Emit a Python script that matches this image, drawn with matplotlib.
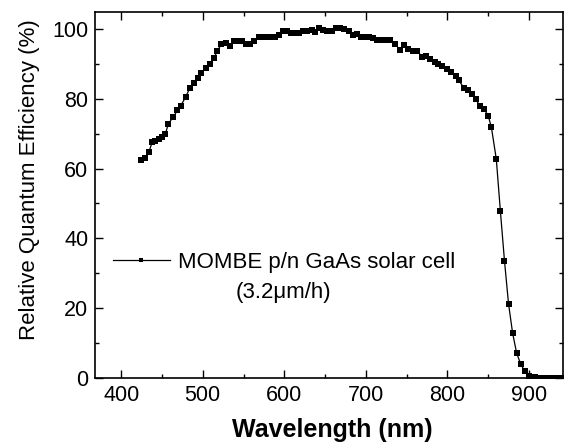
import matplotlib
matplotlib.use('Agg')
import matplotlib.pyplot as plt
from matplotlib.ticker import MultipleLocator

plt.rcParams['font.family'] = ['Liberation Sans', 'DejaVu Sans']

# Quantum efficiency spectrum
wavelength = [424, 429, 434, 438, 442, 446, 450, 454, 458, 464, 469, 473,
              479, 484, 489, 494, 498, 504, 509, 514, 518, 523, 528, 533,
              538, 543, 548, 553, 558, 563, 569, 574, 579, 584, 589, 594,
              598, 603, 608, 613, 618, 623, 628, 634, 638, 643, 648, 653,
              658, 663, 668, 673, 679, 684, 689, 694, 699, 704, 709, 714,
              720, 725, 730, 736, 742, 747, 752, 758, 763, 769, 774, 779,
              785, 789, 794, 799, 805, 810, 814, 820, 825, 830, 835, 840,
              845, 850, 854, 860, 865, 870, 875, 880, 885, 890, 895, 900,
              904, 907, 910, 913, 916, 919, 922, 925, 928, 931, 934, 937, 940]
qe = [62.4, 62.9, 64.7, 67.6, 68.0, 68.5, 69.0, 69.8, 72.9, 74.8, 76.7, 78.0,
      80.5, 83.0, 84.6, 86.0, 87.4, 88.9, 90.1, 91.8, 93.8, 95.7, 95.9, 95.1,
      96.6, 96.6, 96.6, 95.6, 95.6, 96.6, 97.8, 97.8, 97.8, 97.6, 97.6, 98.3,
      99.4, 99.4, 99.0, 99.0, 99.0, 99.5, 99.3, 99.8, 99.1, 100.2, 99.8, 99.5,
      99.3, 100.3, 100.4, 99.9, 99.4, 98.3, 98.7, 97.8, 97.8, 97.6, 97.3, 97.0,
      97.0, 97.0, 97.0, 95.7, 94.0, 95.4, 94.2, 93.8, 93.8, 92.0, 92.2, 91.3,
      90.6, 89.9, 89.4, 88.4, 87.7, 86.5, 85.3, 83.2, 82.5, 81.3, 79.8, 77.9,
      77.0, 75.2, 71.8, 62.7, 47.8, 33.6, 21.2, 12.8, 7.0, 3.9, 1.8, 0.6,
      0.2, 0.1, 0.0, 0.0, 0.0, 0.0, 0.0, 0.0, 0.0, 0.0, 0.0, 0.0, 0.0]

label = 'MOMBE p/n GaAs solar cell'
label_note = '(3.2\u03bcm/h)'

fig = plt.figure(figsize=(5.66, 4.47), dpi=100)
ax = fig.add_axes([0.168, 0.155, 0.827, 0.819])

ax.plot(wavelength, qe, color='black', linewidth=0.9, marker='s',
        markersize=3.9, markeredgewidth=0, label=label)

ax.set_xlim(368, 942)
ax.set_ylim(0, 105)
ax.xaxis.set_major_locator(MultipleLocator(100))
ax.xaxis.set_minor_locator(MultipleLocator(50))
ax.yaxis.set_major_locator(MultipleLocator(20))
ax.yaxis.set_minor_locator(MultipleLocator(10))
ax.tick_params(which='both', direction='in', top=True, right=True,
               labelsize=15.5, width=1)
ax.tick_params(which='major', length=6, pad=5)
ax.tick_params(which='minor', length=3)
for sp in ax.spines.values():
    sp.set_linewidth(1.2)

ax.set_xlabel('Wavelength (nm)', fontsize=18, fontweight='bold')
ax.xaxis.set_label_coords(0.506, -0.109)
ax.set_ylabel('Relative Quantum Efficiency (%)', fontsize=16)
ax.yaxis.set_label_coords(-0.117, 0.541)

leg = ax.legend(loc='center left', bbox_to_anchor=(0.038, 0.314), frameon=False,
                fontsize=16, handlelength=2.57, handletextpad=0.36,
                borderpad=0, borderaxespad=0, markerscale=0.7)
ax.text(0.402, 0.232, label_note, transform=ax.transAxes, fontsize=16,
        ha='center', va='center')

fig.savefig('out.png', dpi=100)
